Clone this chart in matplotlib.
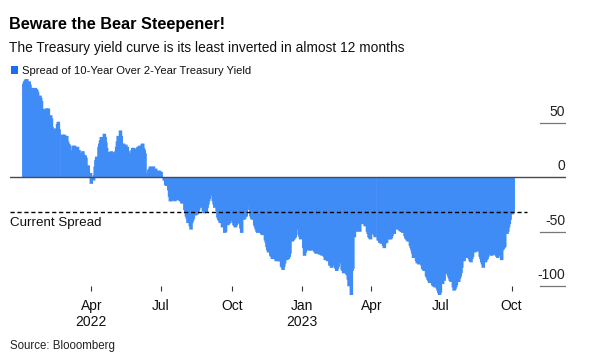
import matplotlib
matplotlib.use("Agg")
import matplotlib.pyplot as plt
import matplotlib.dates as mdates
import matplotlib.transforms as mtransforms
from matplotlib.patches import Rectangle
import pandas as pd
import numpy as np

plt.rcParams['font.family'] = ['Liberation Sans', 'DejaVu Sans']

# ---------------- data (bps, 10Y minus 2Y), one list per month ----------------
holidays = ["2022-01-17", "2022-02-21", "2022-04-15", "2022-05-30", "2022-06-20",
            "2022-07-04", "2022-09-05", "2022-11-24", "2022-12-26", "2023-01-02",
            "2023-01-16", "2023-02-20", "2023-04-07", "2023-05-29", "2023-06-19",
            "2023-07-04", "2023-09-04"]

m2022_01 = [86, 88, 89, 90, 90, 88, 85, 82, 82, 82, 82, 81, 80, 78, 75, 73, 70, 63, 62, 62]
m2022_02 = [63, 63, 63, 63, 57, 54, 46, 45, 44, 42, 45, 49, 51, 44, 39, 39, 39, 39, 38]
m2022_03 = [33, 31, 30, 29, 24, 25, 29, 29, 28, 28, 25, 25, 22, 22, 24, 21, 20, 20, 18, 11, 4, 3, 4]
m2022_04 = [-6, -3, 2, 10, 16, 19, 28, 31, 34, 37, 40, 37, 32, 27, 23, 23, 23, 24, 23, 23]
m2022_05 = [21, 24, 28, 33, 38, 43, 38, 30, 30, 31, 30, 28, 28, 24, 22, 22, 25, 27, 27, 26, 27]
m2022_06 = [28, 28, 29, 30, 31, 27, 25, 22, 4, 4, 7, 8, 10, 10, 7, 7, 8, 6, 6, 6, 5]
m2022_07 = [5, -3, -3, -7, -8, -12, -18, -22, -22, -21, -21, -22, -21, -20, -21, -21, -22, -22, -24, -24]
m2022_08 = [-30, -33, -36, -38, -42, -45, -48, -42, -40, -38, -35, -34, -34, -33, -30, -28, -27, -26,
            -31, -33, -32, -28, -25]
m2022_09 = [-22, -20, -17, -22, -25, -28, -31, -37, -39, -40, -42, -46, -44, -45, -51, -50, -44, -43,
            -42, -39, -40]
m2022_10 = [-42, -44, -45, -46, -44, -42, -41, -43, -47, -51, -39, -38, -36, -36, -30, -26, -30, -36,
            -38, -39, -44]
m2022_11 = [-46, -48, -50, -51, -50, -51, -52, -53, -53, -58, -60, -64, -67, -69, -72, -73, -75, -75,
            -77, -73, -75]
m2022_12 = [-77, -77, -82, -83, -85, -82, -79, -76, -74, -75, -73, -70, -59, -58, -57, -56, -55, -48,
            -53, -55, -57]
m2023_01 = [-65, -72, -69, -66, -67, -67, -67, -67, -67, -68, -69, -70, -70, -70, -71, -70, -71, -72,
            -73, -76]
m2023_02 = [-75, -70, -77, -81, -80, -83, -81, -80, -83, -84, -86, -84, -82, -79, -85, -86, -88, -88, -89]
m2023_03 = [-90, -94, -100, -108, -86, -84, -41, -55, -50, -47, -44, -48, -50, -43, -42, -41, -40, -45,
            -50, -52, -55, -56, -57]
m2023_04 = [-52, -51, -53, -55, -58, -58, -60, -60, -61, -63, -65, -61, -60, -60, -57, -56, -57, -56, -54]
m2023_05 = [-52, -46, -42, -44, -48, -49, -49, -50, -50, -51, -54, -56, -57, -58, -59, -63, -65, -67,
            -70, -74, -77, -79]
m2023_06 = [-77, -80, -79, -81, -84, -85, -86, -91, -92, -94, -95, -97, -99, -100, -100, -101, -102,
            -104, -106, -108, -106]
m2023_07 = [-98, -95, -89, -88, -89, -91, -93, -95, -96, -101, -104, -103, -101, -99, -96, -93, -91,
            -88, -83, -77]
m2023_08 = [-74, -72, -71, -74, -75, -77, -78, -75, -73, -69, -67, -67, -68, -68, -73, -75, -78, -80,
            -83, -78, -76, -75, -73]
m2023_09 = [-71, -72, -71, -70, -71, -72, -73, -74, -72, -70, -76, -67, -66, -65, -64, -52, -50, -46,
            -43, -39]
m2023_10 = [-34, -32]

months = [("2022-01-03", m2022_01), ("2022-02-01", m2022_02), ("2022-03-01", m2022_03),
          ("2022-04-01", m2022_04), ("2022-05-01", m2022_05), ("2022-06-01", m2022_06),
          ("2022-07-01", m2022_07), ("2022-08-01", m2022_08), ("2022-09-01", m2022_09),
          ("2022-10-01", m2022_10), ("2022-11-01", m2022_11), ("2022-12-01", m2022_12),
          ("2023-01-01", m2023_01), ("2023-02-01", m2023_02), ("2023-03-01", m2023_03),
          ("2023-04-01", m2023_04), ("2023-05-01", m2023_05), ("2023-06-01", m2023_06),
          ("2023-07-01", m2023_07), ("2023-08-01", m2023_08), ("2023-09-01", m2023_09),
          ("2023-10-01", m2023_10)]

tick_dates = ["2022-04-01", "2022-07-01", "2022-10-01", "2023-01-01", "2023-04-01",
              "2023-07-01", "2023-10-01"]
tick_labels = ["Apr\n2022", "Jul", "Oct", "Jan\n2023", "Apr", "Jul", "Oct"]
y_ticks = [50, 0, -50, -100]
y_labels = ["50", "0", "-50", "-100"]

title = "Beware the Bear Steepener!"
subtitle = "The Treasury yield curve is its least inverted in almost 12 months"
legend_label = "Spread of 10-Year Over 2-Year Treasury Yield"
source = "Source: Blooomberg"

# build the dated series
hol = pd.to_datetime(holidays)
dates, spread = [], []
for start, vals in months:
    s = pd.Timestamp(start)
    end = s + pd.offsets.MonthEnd(0)
    if start == "2023-10-01":
        end = pd.Timestamp("2023-10-03")
    d = pd.bdate_range(s, end)
    d = d[~d.isin(hol)]
    assert len(d) == len(vals), (start, len(d), len(vals))
    dates.extend(d)
    spread.extend(vals)
dates = pd.DatetimeIndex(dates)
spread = np.array(spread, dtype=float)
current = spread[-1]

# ---------------- figure ----------------
W, H = 598, 362
fig = plt.figure(figsize=(W / 100, H / 100), dpi=100)
fig.patch.set_facecolor("white")

# axes geometry (pixels)
ax_left, ax_right = 10, 566
ymin, ymax = -112, 93
px_per_unit = 1.09
zero_px = 177.3
top_px = zero_px - ymax * px_per_unit
bot_px = zero_px - ymin * px_per_unit
ax = fig.add_axes([ax_left / W, 1 - bot_px / H, (ax_right - ax_left) / W, (bot_px - top_px) / H])
ax.set_facecolor("white")

# x range in days relative to 2022-01-01 (0.767 px/day, Jan 1 2022 at x=22.3)
base = mdates.date2num(pd.Timestamp("2022-01-01"))
px_per_day = 0.767
x0_day = (ax_left - 22.3) / px_per_day
x1_day = (ax_right - 22.3) / px_per_day
ax.set_xlim(base + x0_day, base + x1_day)
ax.set_ylim(ymin, ymax)

bars = ax.bar(dates, spread, width=4.6, color="#408cf7", linewidth=0, zorder=2)
for b in bars:
    b.set_snap(False)

# zero line
ax.axhline(0, color="#4a4a4a", lw=1.0, zorder=3)
# short gridlines at right
for v in y_ticks:
    if v != 0:
        ax.axhline(v, xmin=(540 - ax_left) / (ax_right - ax_left), xmax=1, color="#777777", lw=0.9, zorder=3)
# y labels above gridlines
trans = mtransforms.blended_transform_factory(ax.transAxes, ax.transData)
for v, lab in zip(y_ticks, y_labels):
    ax.annotate(lab, xy=(1.0, v), xycoords=trans, xytext=(-0.5, 5.2), textcoords="offset points",
                ha="right", va="baseline", fontsize=10, color="#222222")

# current spread dashed line
ax.axhline(current, xmin=0, xmax=(527 - ax_left) / (ax_right - ax_left), color="black", lw=1.0,
           dashes=(3, 2), zorder=4)
ax.annotate("Current Spread", xy=(0, current), xycoords=trans, xytext=(0, -3.6),
            textcoords="offset points", ha="left", va="top", fontsize=9.6, color="#111111")

# x axis ticks
for sp in ax.spines.values():
    sp.set_visible(False)
ax.spines["bottom"].set_position(("data", (zero_px - 286) / px_per_unit))
ax.set_xticks([mdates.date2num(pd.Timestamp(t)) for t in tick_dates])
ax.set_xticklabels(tick_labels, fontsize=10, color="#111111", linespacing=1.15)
ax.tick_params(axis="x", direction="out", length=3.8, width=0.8, color="#333333", pad=5.5)
ax.set_yticks([])

# ---------------- header / footer ----------------
def fit(txt, target_px):
    r = fig.canvas.get_renderer()
    w = txt.get_window_extent(r).width
    txt.set_fontsize(txt.get_fontsize() * target_px / w)

t1 = fig.text(9 / W, 1 - 29 / H, title, fontsize=14, fontweight="bold", ha="left", va="baseline",
              color="black")
t2 = fig.text(9 / W, 1 - 52.3 / H, subtitle, fontsize=12, ha="left", va="baseline", color="#111111")
t3 = fig.text(22 / W, 1 - 74 / H, legend_label, fontsize=9, ha="left", va="baseline", color="#111111")
t4 = fig.text(10 / W, 1 - 348.5 / H, source, fontsize=8, ha="left", va="baseline", color="#222222")
fig.canvas.draw()
fit(t1, 216)
fit(t2, 396)
fit(t3, 229)
fit(t4, 106)
fig.patches.append(Rectangle((10.5 / W, 1 - 74 / H), 7 / W, 8 / H, transform=fig.transFigure,
                             facecolor="#1a6ff0", edgecolor="none"))

fig.savefig("out.png", dpi=100, facecolor="white")
